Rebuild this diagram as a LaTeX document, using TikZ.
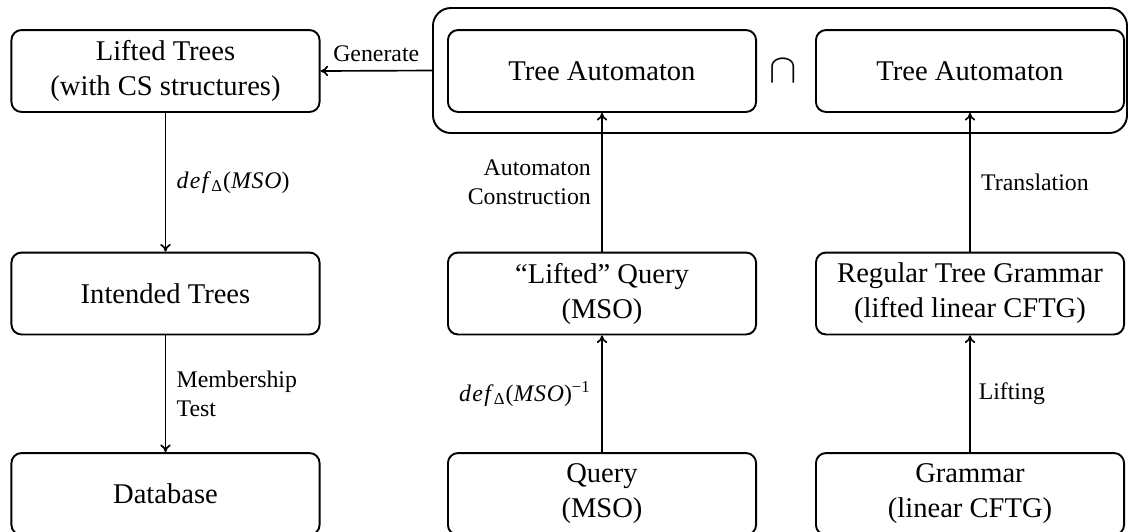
\documentclass[tikz,border=0pt]{standalone}
\usepackage{fontspec}
\setmainfont{Liberation Serif}
\usetikzlibrary{arrows.meta}
\newcommand{\deflbl}{\textit{d\kern0.6pt e\kern0.6pt f}\textsubscript{Δ}(\textit{M\kern0.3pt S\kern0.3pt O})}
\tikzset{
  box/.style={draw, line width=0.8pt, rounded corners=4.2pt, minimum width=129.4pt, minimum height=34.4pt, align=center, inner sep=0pt, font=\fontsize{12}{14.7}\selectfont},
  outerbox/.style={draw, line width=0.8pt, rounded corners=7.5pt, minimum width=291.5pt, minimum height=52.5pt, inner sep=0pt},
  arr/.style={-{To[length=3.2pt,width=4.4pt]}, line width=0.7pt},
  lbl/.style={font=\fontsize{10}{12.2}\selectfont},
}
\begin{document}
\begin{tikzpicture}[x=0.42pt,y=-0.42pt]
\useasboundingbox (0,0) rectangle (1128,531);
% outer box
\node[outerbox] (outer) at (780,70.5) {};
% nodes
\node[box] (lt) at (165.5,71) {Lifted Trees\\(with CS structures)};
\node[box] (it) at (165.5,293.5) {Intended Trees};
\node[box] (db) at (165.5,494) {Database};
\node[box] (ta1) at (602,71) {Tree Automaton};
\node[box] (lq) at (602,293.5) {“Lifted” Query\\(MSO)};
\node[box] (q) at (602,494) {Query\\(MSO)};
\node[box] (ta2) at (970,71) {Tree Automaton};
\node[box] (rtg) at (970,293.5) {Regular Tree Grammar\\(lifted linear CFTG)};
\node[box] (g) at (970,494) {Grammar\\(linear CFTG)};
\node[font=\fontsize{17}{18}\selectfont] (cap) at (783,71) {$\cap$};
% connectors
\draw[arr] (outer.west) -- node[lbl, above] {Generate} (lt.east);
\draw[arr] (lt) -- node[lbl, right, xshift=1pt] {\deflbl} (it);
\draw[arr] (it) -- node[lbl, right, align=left, xshift=1pt] {Membership\\Test} (db);
\draw[arr] (lq) -- node[lbl, left, align=right, xshift=-1pt] {Automaton\\Construction} (ta1);
\draw[arr] (q) -- node[lbl, left, xshift=-1pt] {\deflbl\textsuperscript{−1}} (lq);
\draw[arr] (rtg) -- node[lbl, right, xshift=1pt] {Translation} (ta2);
\draw[arr] (g) -- node[lbl, right] {Lifting} (rtg);
\end{tikzpicture}
\end{document}
